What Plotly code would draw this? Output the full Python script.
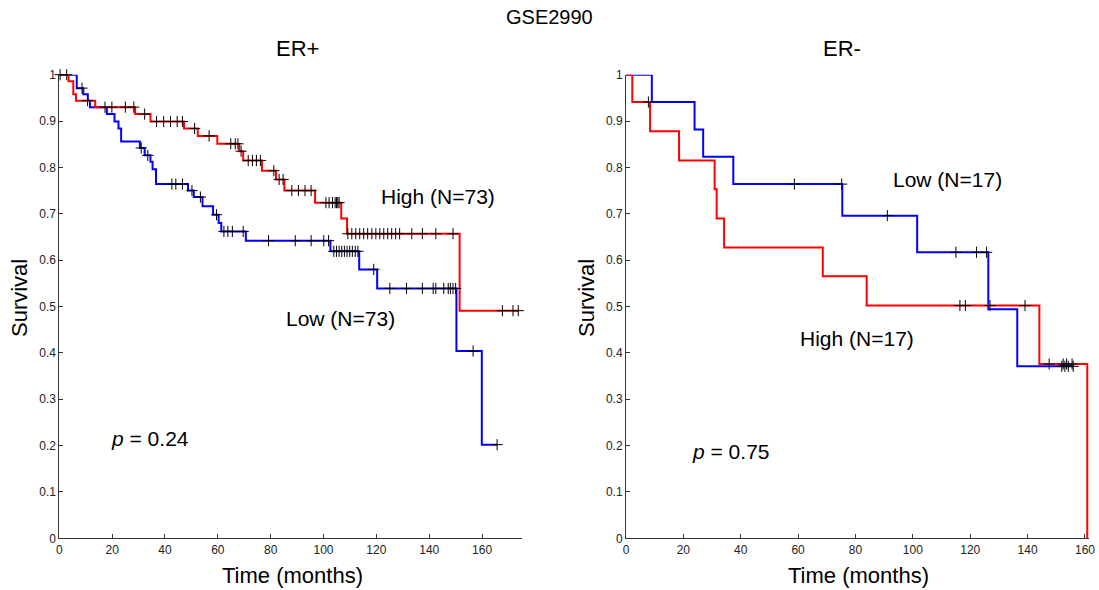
import plotly.graph_objects as go

# ---------------- data ----------------
# ER+ panel, High group (red)
erp_high_t = [0, 3.5, 5.3, 6.3, 13.6, 28.7, 34.5, 47.2, 52.4, 59.8, 68.1, 69.6, 76.7, 82.0, 85.2, 96.8, 106.7, 108.9, 151.5]
erp_high_s = [1, 0.986, 0.958, 0.944, 0.930, 0.915, 0.899, 0.884, 0.868, 0.851, 0.835, 0.815, 0.793, 0.774, 0.750, 0.724, 0.690, 0.657, 0.491]
erp_high_end = 174.0
erp_high_cens = [0.3, 2.8, 10.7, 17.3, 19.9, 25.0, 28.2, 32.3, 36.8, 39.5, 42.1, 44.6, 46.6, 51.2, 56.7,
                 64.9, 66.6, 67.6, 68.8, 71.5, 73.1, 74.6, 76.1, 81.2, 83.2, 84.7, 88.0, 90.5, 93.0, 95.3,
                 100.9, 102.1, 103.4, 104.4, 104.9, 105.4, 105.9, 109.2, 110.7, 112.2, 113.7, 115.2, 116.7,
                 118.3, 119.8, 121.3, 122.8, 124.3, 125.8, 127.3, 128.8, 133.4, 137.4, 142.5, 149.0,
                 167.7, 171.7, 173.7]

# ER+ panel, Low group (blue)
erp_low_t = [0, 6.6, 9.1, 10.8, 11.6, 18.0, 20.9, 22.4, 23.4, 30.5, 32.3, 34.5, 35.3, 36.6, 48.7, 50.9,
             54.2, 58.2, 60.3, 61.3, 70.6, 102.6, 113.5, 120.3, 150.3, 159.9]
erp_low_s = [1, 0.971, 0.958, 0.944, 0.930, 0.915, 0.899, 0.884, 0.856, 0.842, 0.826, 0.812, 0.796, 0.764,
             0.750, 0.736, 0.716, 0.698, 0.680, 0.662, 0.642, 0.619, 0.580, 0.539, 0.404, 0.202]
erp_low_end = 165.7
erp_low_cens = [8.6, 31.0, 33.5, 42.6, 44.1, 46.6, 50.2, 53.4, 59.5, 62.3, 63.8, 65.5, 69.6, 79.2, 89.3,
                95.3, 100.1, 101.9, 103.9, 104.9, 105.9, 106.9, 107.9, 108.9, 109.9, 110.9, 112.0, 113.0,
                119.0, 125.1, 131.4, 137.4, 141.5, 142.5, 145.5, 147.2, 148.0, 149.0, 150.0, 156.6, 165.7]

# ER- panel, High group (red)
ern_high_t = [0, 2.2, 8.4, 18.5, 30.9, 31.6, 34.2, 68.6, 83.9, 144.1, 160.8]
ern_high_s = [1, 0.941, 0.878, 0.815, 0.753, 0.690, 0.627, 0.565, 0.502, 0.376, 0.0]
ern_high_end = 160.8
ern_high_cens = [7.8, 116.4, 118.3, 126.9, 139.1, 147.5, 152.4, 153.6, 155.5]

# ER- panel, Low group (blue)
ern_low_t = [0, 9.0, 23.9, 26.9, 37.4, 75.4, 101.5, 126.3, 136.4]
ern_low_s = [1, 0.941, 0.882, 0.823, 0.764, 0.696, 0.617, 0.494, 0.371]
ern_low_end = 155.9
ern_low_cens = [58.7, 75.2, 91.1, 115.0, 122.2, 125.7, 151.9, 153.0, 154.2, 155.9]

x_ticks = [0, 20, 40, 60, 80, 100, 120, 140, 160]
y_ticks = [0, 0.1, 0.2, 0.3, 0.4, 0.5, 0.6, 0.7, 0.8, 0.9, 1]
y_tick_text = ["0", "0.1", "0.2", "0.3", "0.4", "0.5", "0.6", "0.7", "0.8", "0.9", "1"]

# ---------------- helpers ----------------
def step_xy(t, s, end):
    return list(t) + [end], list(s) + [s[-1]]

def surv_at(t, s, x):
    v = s[0]
    for ti, si in zip(t, s):
        if ti <= x:
            v = si
        else:
            break
    return v

FONT = "Liberation Sans, Arial, sans-serif"
fig = go.Figure()

panels = [
    ("x", "y", [(erp_low_t, erp_low_s, erp_low_end, erp_low_cens, "#0000FF"),
                (erp_high_t, erp_high_s, erp_high_end, erp_high_cens, "#FF0000")]),
    ("x2", "y2", [(ern_low_t, ern_low_s, ern_low_end, ern_low_cens, "#0000FF"),
                  (ern_high_t, ern_high_s, ern_high_end, ern_high_cens, "#FF0000")]),
]

for xa, ya, groups in panels:
    for t, s, end, cens, col in groups:
        xs, ys = step_xy(t, s, end)
        fig.add_trace(go.Scatter(x=xs, y=ys, mode="lines", line=dict(color=col, width=2, shape="hv"),
                                 xaxis=xa, yaxis=ya, showlegend=False, hoverinfo="skip", cliponaxis=False))
    for t, s, end, cens, col in groups:
        cy = [surv_at(t, s, c) for c in cens]
        fig.add_trace(go.Scatter(x=cens, y=cy, mode="markers",
                                 marker=dict(symbol="cross-thin", size=8, line=dict(color="black", width=1)),
                                 xaxis=xa, yaxis=ya, showlegend=False, hoverinfo="skip", cliponaxis=False))

W, H = 1099, 590
def px(x):
    return x / W
def py(y):
    return 1 - y / H

axis_common = dict(showgrid=False, zeroline=False, showline=True, linecolor="#333333", linewidth=1,
                   ticks="inside", ticklen=4, tickcolor="#333333", automargin=False,
                   tickfont=dict(family=FONT, size=12, color="#222222"), mirror=False)

fig.update_layout(
    width=W, height=H,
    margin=dict(l=0, r=0, t=0, b=0),
    paper_bgcolor="white", plot_bgcolor="white",
    xaxis=dict(domain=[px(59.3), px(521.7)], range=[0, 175], tickvals=x_ticks, anchor="y", **axis_common),
    yaxis=dict(domain=[py(538.3), py(74.7)], range=[0, 1], tickvals=y_ticks, ticktext=y_tick_text,
               anchor="x", **axis_common),
    xaxis2=dict(domain=[px(626), px(1089)], range=[0, 161.4], tickvals=x_ticks, anchor="y2", **axis_common),
    yaxis2=dict(domain=[py(538.3), py(74.7)], range=[0, 1], tickvals=y_ticks, ticktext=y_tick_text,
                anchor="x2", **axis_common),
)

def ann(text, x, y, size, angle=0):
    fig.add_annotation(text=text, x=px(x), y=py(y), xref="paper", yref="paper", showarrow=False,
                       xanchor="center", yanchor="middle", textangle=angle,
                       font=dict(family=FONT, size=size, color="black"))

ann("GSE2990", 549, 17, 20)
ann("ER+", 297, 48, 22)
ann("ER-", 842, 48, 22)
ann("High (N=73)", 438, 196, 21)
ann("Low (N=73)", 340, 318, 21)
ann("<i>p</i> = 0.24", 150, 438, 21)
ann("Low (N=17)", 947, 179, 21)
ann("High (N=17)", 857, 338, 21)
ann("<i>p</i> = 0.75", 731, 451, 21)
ann("Survival", 19, 298, 22, -90)
ann("Survival", 586, 298, 22, -90)
ann("Time (months)", 292, 575, 22)
ann("Time (months)", 858, 575, 22)

fig.write_html("out.html")
